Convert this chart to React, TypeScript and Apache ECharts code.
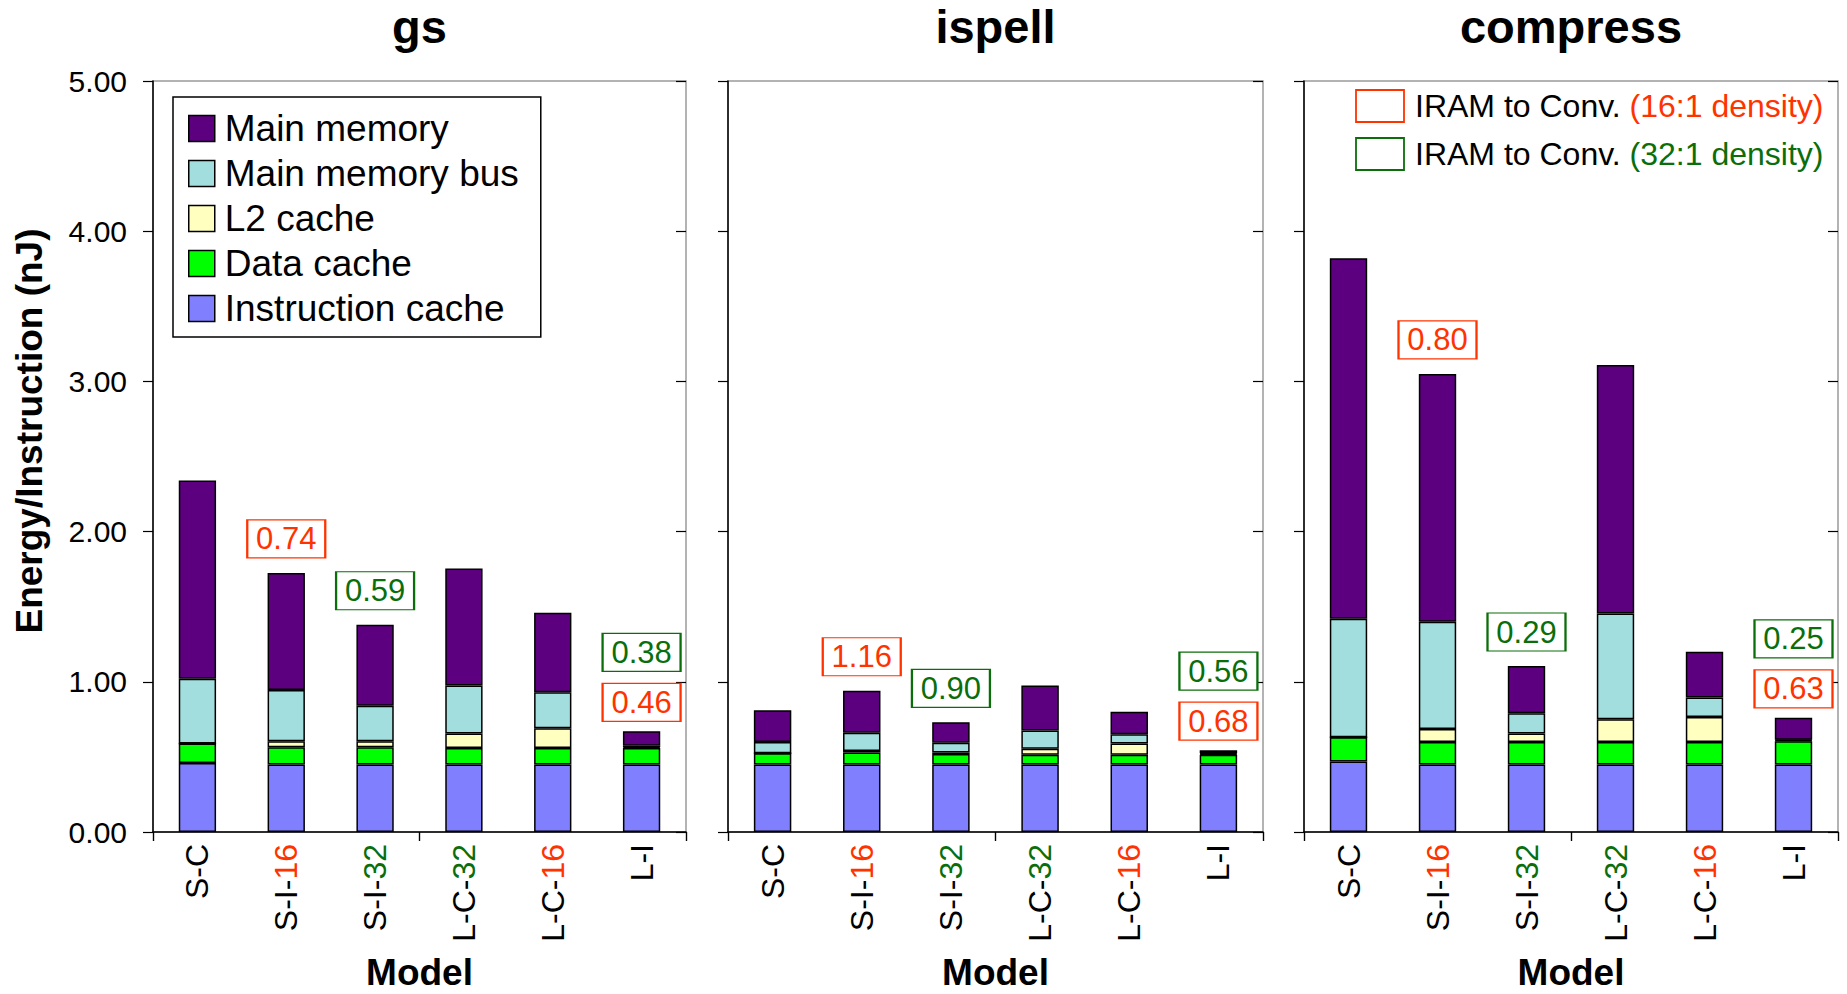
import React, { useEffect, useRef } from "react";
import * as echarts from "echarts";

// Categories and legend
const models = ["S-C", "S-I-16", "S-I-32", "L-C-32", "L-C-16", "L-I"];
const benchmarks = ["gs", "ispell", "compress"];
const componentNames = ["Instruction cache", "Data cache", "L2 cache", "Main memory bus", "Main memory"];
const legendOrder = ["Main memory", "Main memory bus", "L2 cache", "Data cache", "Instruction cache"];
const componentColors = ["#8080FF", "#00FF00", "#FFFFC0", "#A2DEDE", "#5C007F"];
const yTicks = [0, 1, 2, 3, 4, 5];

// gs: energy per instruction (nJ) by component
const gsInstruction = [0.46, 0.45, 0.45, 0.45, 0.45, 0.45];
const gsData = [0.13, 0.115, 0.115, 0.11, 0.11, 0.11];
const gsL2 = [0, 0.04, 0.04, 0.095, 0.13, 0.005];
const gsBus = [0.43, 0.34, 0.235, 0.32, 0.24, 0.01];
const gsMemory = [1.32, 0.78, 0.54, 0.78, 0.53, 0.095];

// ispell
const ispellInstruction = [0.45, 0.45, 0.45, 0.45, 0.45, 0.45];
const ispellData = [0.075, 0.08, 0.07, 0.065, 0.065, 0.065];
const ispellL2 = [0, 0.01, 0.01, 0.04, 0.075, 0.005];
const ispellBus = [0.075, 0.12, 0.065, 0.12, 0.06, 0.005];
const ispellMemory = [0.21, 0.28, 0.135, 0.30, 0.15, 0.02];

// compress
const compressInstruction = [0.47, 0.45, 0.45, 0.45, 0.45, 0.45];
const compressData = [0.16, 0.15, 0.15, 0.15, 0.15, 0.155];
const compressL2 = [0, 0.085, 0.055, 0.15, 0.165, 0.005];
const compressBus = [0.79, 0.715, 0.135, 0.705, 0.13, 0.005];
const compressMemory = [2.40, 1.65, 0.315, 1.655, 0.305, 0.145];

// IRAM-to-conventional ratio boxes: [model, text, density]
const gsRatios: [string, string, number][] = [
  ["S-I-16", "0.74", 16],
  ["S-I-32", "0.59", 32],
  ["L-I", "0.46", 16],
  ["L-I", "0.38", 32],
];
const ispellRatios: [string, string, number][] = [
  ["S-I-16", "1.16", 16],
  ["S-I-32", "0.90", 32],
  ["L-I", "0.68", 16],
  ["L-I", "0.56", 32],
];
const compressRatios: [string, string, number][] = [
  ["S-I-16", "0.80", 16],
  ["S-I-32", "0.29", 32],
  ["L-I", "0.63", 16],
  ["L-I", "0.25", 32],
];

const panels = [
  { name: benchmarks[0], stacks: [gsInstruction, gsData, gsL2, gsBus, gsMemory], ratios: gsRatios },
  { name: benchmarks[1], stacks: [ispellInstruction, ispellData, ispellL2, ispellBus, ispellMemory], ratios: ispellRatios },
  { name: benchmarks[2], stacks: [compressInstruction, compressData, compressL2, compressBus, compressMemory], ratios: compressRatios },
];

const FONT = "'Liberation Sans', Arial, sans-serif";
const RED = "#FF3300";
const GREEN = "#0A6E0A";

const gridBoxes = [
  { left: 153, width: 533 },
  { left: 728, width: 535 },
  { left: 1304, width: 534 },
];
const GRID_TOP = 81;
const GRID_HEIGHT = 751;

function modelLabel(v: string) {
  const m = v.match(/^(.*-)(16|32)$/);
  if (m) return `{k|${m[1]}}{${m[2] === "16" ? "r" : "g"}|${m[2]}}`;
  return `{k|${v}}`;
}

function buildOption() {
  const grid: any[] = [];
  const xAxis: any[] = [];
  const yAxis: any[] = [];
  const series: any[] = [];

  panels.forEach((p, k) => {
    grid.push({
      left: gridBoxes[k].left,
      width: gridBoxes[k].width,
      top: GRID_TOP,
      height: GRID_HEIGHT,
      show: true,
      borderColor: "#9A9A9A",
      borderWidth: 1.5,
      backgroundColor: "transparent",
    });
    // main category axis (labels, outward ticks)
    xAxis.push({
      type: "category",
      gridIndex: k,
      data: models,
      axisLine: { show: true, lineStyle: { color: "#000", width: 1.5 } },
      axisTick: { show: true, interval: 2, length: 9, lineStyle: { color: "#000", width: 1.2 } },
      axisLabel: {
        rotate: 90,
        margin: 12,
        formatter: modelLabel,
        rich: {
          k: { color: "#000", fontSize: 32, fontFamily: FONT },
          r: { color: RED, fontSize: 32, fontFamily: FONT },
          g: { color: GREEN, fontSize: 32, fontFamily: FONT },
        },
      },
    });
    // companion axis drawing the inward half of the crossing ticks
    xAxis.push({
      type: "category",
      gridIndex: k,
      data: models,
      axisLine: { show: false },
      axisTick: { show: true, inside: true, interval: 2, length: 9, lineStyle: { color: "#000", width: 1.2 } },
      axisLabel: { show: false },
    });
    yAxis.push({
      type: "value",
      gridIndex: k,
      min: 0,
      max: 5,
      interval: 1,
      axisLine: { show: true, lineStyle: { color: "#000", width: 1.5 } },
      axisTick: { show: true, length: 10, lineStyle: { color: "#000", width: 1.2 } },
      splitLine: { show: false },
      axisLabel: {
        show: k === 0,
        margin: 26,
        color: "#000",
        fontSize: 30,
        fontFamily: FONT,
        formatter: (v: number) => (yTicks.includes(v) ? v.toFixed(2) : ""),
      },
    });
    yAxis.push({
      type: "value",
      gridIndex: k,
      min: 0,
      max: 5,
      interval: 1,
      axisLine: { show: false },
      axisTick: { show: true, inside: true, length: 10, lineStyle: { color: "#000", width: 1.2 } },
      splitLine: { show: false },
      axisLabel: { show: false },
    });

    const totals = models.map((_, i) => p.stacks.reduce((s, arr) => s + arr[i], 0));

    p.stacks.forEach((values, c) => {
      const s: any = {
        type: "bar",
        name: componentNames[c],
        xAxisIndex: 2 * k,
        yAxisIndex: 2 * k,
        stack: "stack" + k,
        barWidth: "42%",
        data: values,
        itemStyle: { color: componentColors[c], borderColor: "#000", borderWidth: 1.5 },
        emphasis: { disabled: true },
      };
      if (c === p.stacks.length - 1) {
        s.markPoint = {
          symbol: "rect",
          symbolSize: [78, 38],
          silent: true,
          data: p.ratios.map(([model, text, density]) => {
            const idx = models.indexOf(model);
            const color = density === 16 ? RED : GREEN;
            let offset = 34;
            if (model === "L-I") offset = density === 16 ? 29 : 79;
            return {
              coord: [model, totals[idx]],
              symbolOffset: [0, -offset],
              itemStyle: { color: "#fff", borderColor: color, borderWidth: 1.6 },
              label: {
                show: true,
                position: "inside",
                formatter: text,
                color,
                fontSize: 31,
                fontFamily: FONT,
              },
            };
          }),
        };
      }
      series.push(s);
    });
  });

  const graphic: any[] = [];
  panels.forEach((p, k) => {
    const cx = gridBoxes[k].left + gridBoxes[k].width / 2;
    graphic.push({
      type: "text",
      x: cx,
      y: 26,
      style: { text: p.name, fontSize: 47, fontWeight: "bold", fontFamily: FONT, fill: "#000", align: "center", verticalAlign: "middle" },
    });
    graphic.push({
      type: "text",
      x: cx,
      y: 972,
      style: { text: "Model", fontSize: 37, fontWeight: "bold", fontFamily: FONT, fill: "#000", align: "center", verticalAlign: "middle" },
    });
  });
  graphic.push({
    type: "text",
    x: 29,
    y: 431,
    rotation: Math.PI / 2,
    style: { text: "Energy/Instruction (nJ)", fontSize: 37, fontWeight: "bold", fontFamily: FONT, fill: "#000", align: "center", verticalAlign: "middle" },
  });
  // key for the ratio boxes
  [
    { y: 90, color: RED, text: "(16:1 density)", tag: "r" },
    { y: 138, color: GREEN, text: "(32:1 density)", tag: "g" },
  ].forEach((row) => {
    graphic.push({
      type: "rect",
      shape: { x: 1356, y: row.y, width: 48, height: 32 },
      style: { fill: "#fff", stroke: row.color, lineWidth: 1.8 },
    });
    graphic.push({
      type: "text",
      x: 1415,
      y: row.y + 16,
      style: {
        text: `{k|IRAM to Conv. }{${row.tag}|${row.text}}`,
        verticalAlign: "middle",
        align: "left",
        rich: {
          k: { fill: "#000", fontSize: 32, fontFamily: FONT },
          r: { fill: RED, fontSize: 32, fontFamily: FONT },
          g: { fill: GREEN, fontSize: 32, fontFamily: FONT },
        },
      },
    });
  });

  return {
    animation: false,
    backgroundColor: "#fff",
    textStyle: { fontFamily: FONT },
    grid,
    xAxis,
    yAxis,
    series,
    legend: {
      data: legendOrder,
      orient: "vertical",
      left: 173,
      top: 97,
      icon: "rect",
      itemWidth: 26,
      itemHeight: 26,
      itemGap: 8,
      selectedMode: false,
      backgroundColor: "#fff",
      borderColor: "#000",
      borderWidth: 1.5,
      padding: [13, 22, 10, 15],
      itemStyle: { borderColor: "#000", borderWidth: 1.5 },
      textStyle: { fontSize: 37, lineHeight: 37, color: "#000", fontFamily: FONT, padding: [0, 0, 0, 5] },
    },
    graphic,
  };
}

export default function App() {
  const ref = useRef<HTMLDivElement>(null);
  useEffect(() => {
    if (!ref.current) return;
    const chart = echarts.init(ref.current, undefined, { renderer: "svg" });
    chart.setOption(buildOption() as any);
    return () => chart.dispose();
  }, []);
  return (
    <div
      ref={ref}
      style={{ position: "absolute", left: 0, top: 0, width: 1847, height: 994, background: "#fff" }}
    />
  );
}
